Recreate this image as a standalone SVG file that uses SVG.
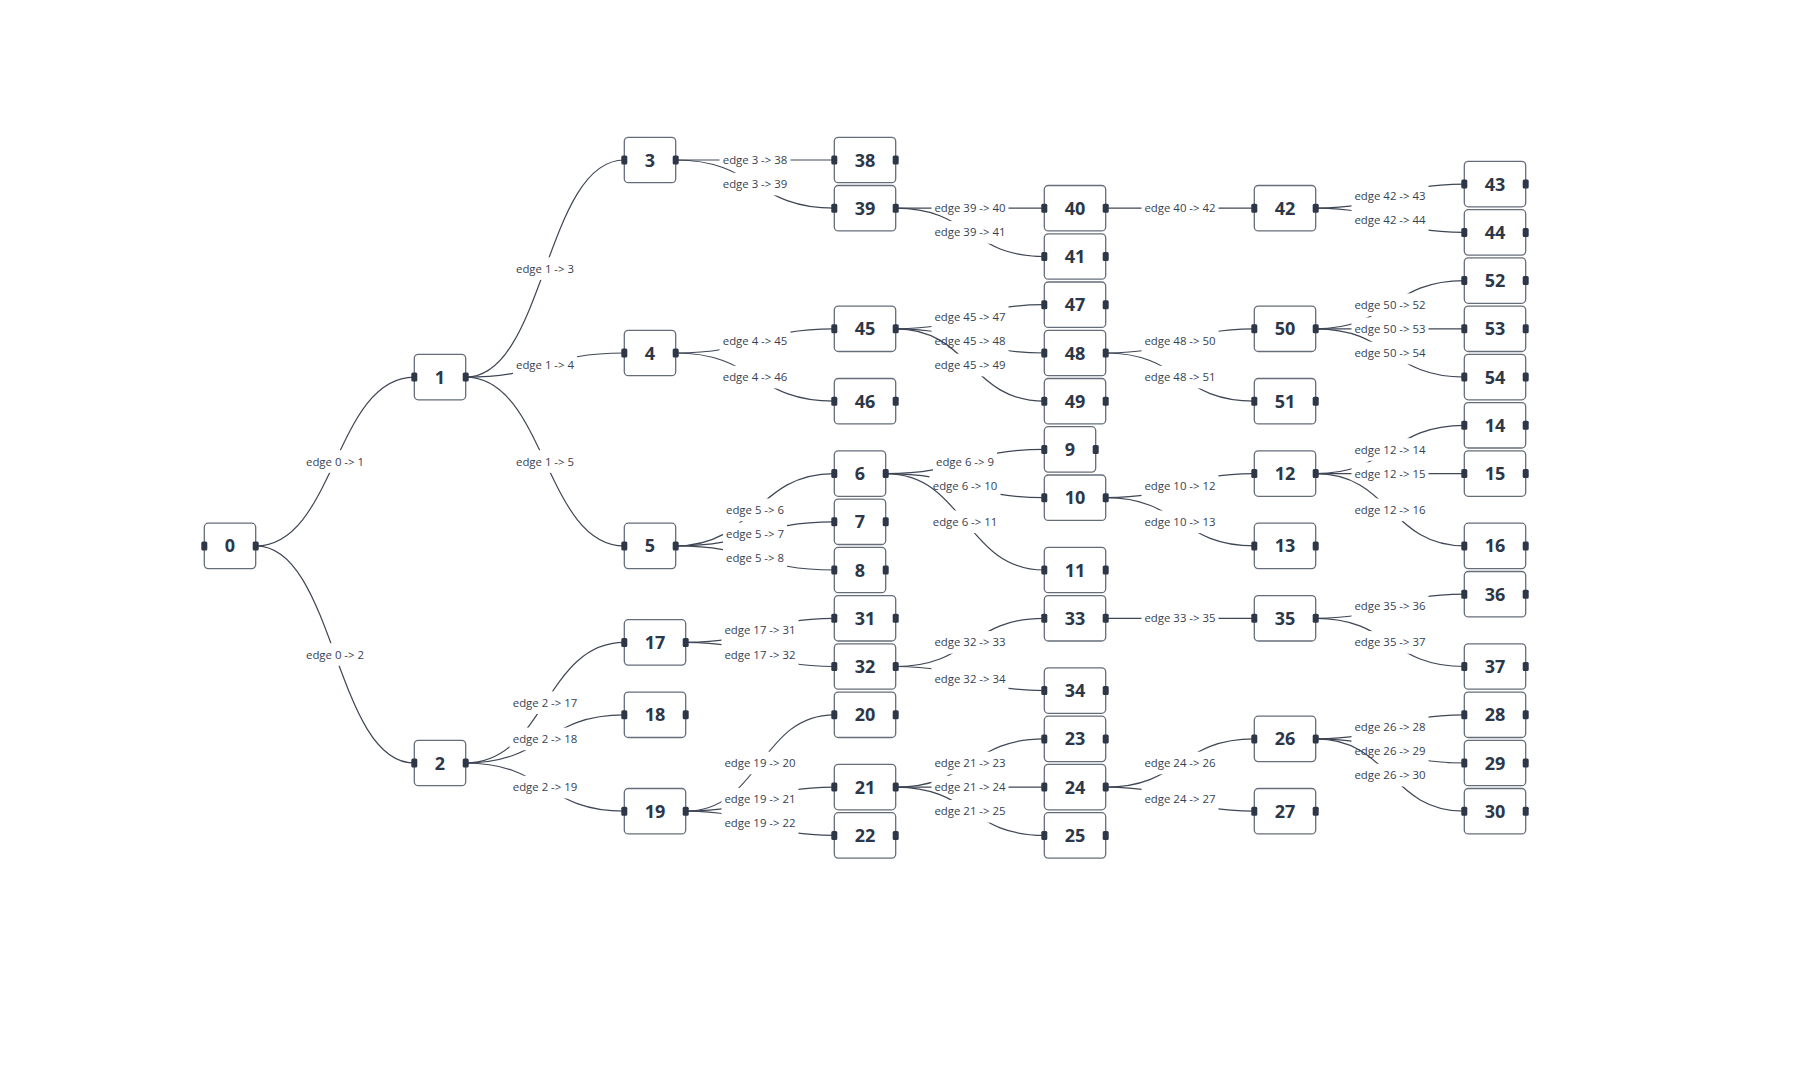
<svg xmlns="http://www.w3.org/2000/svg" xmlns:xlink="http://www.w3.org/1999/xlink" width="1807" height="1088" viewBox="0 0 1807 1088">
<style>
.box{fill:#fff;stroke:#666d7a;stroke-width:1.3}
.port{fill:#2d3748}
.node text{font-family:"Open Sans","Noto Sans","DejaVu Sans",sans-serif;font-weight:700;font-size:18px;fill:#2d3748;text-anchor:middle}
.e{fill:none;stroke:#3f4655;stroke-width:1.2}
.lb{fill:#fff}
.lbl text{font-family:"Open Sans","Noto Sans","DejaVu Sans",sans-serif;font-size:11.4px;fill:#374151;text-anchor:middle}
</style>
<defs>
<g id="n1"><rect class="box" x="0" y="-22.7" width="51.4" height="45.4" rx="4"/><rect class="port" x="-3" y="-4.5" width="6" height="9" rx="1.5"/><rect class="port" x="48.4" y="-4.5" width="6" height="9" rx="1.5"/></g>
<g id="n2"><rect class="box" x="0" y="-22.7" width="61.4" height="45.4" rx="4"/><rect class="port" x="-3" y="-4.5" width="6" height="9" rx="1.5"/><rect class="port" x="58.4" y="-4.5" width="6" height="9" rx="1.5"/></g>
<rect id="lb2" class="lb" x="-32" y="-11.3" width="64" height="22.6"/>
<rect id="lb3" class="lb" x="-35.5" y="-11.3" width="71" height="22.6"/>
<rect id="lb4" class="lb" x="-38.5" y="-11.3" width="77" height="22.6"/>
</defs>
<rect width="1807" height="1088" fill="#fff"/>
<g id="connectors">
<path class="e" d="M255.7 545.9 C335 545.9 335 377.1 414.3 377.1"/><g class="lbl" transform="translate(335,461.5)"><use href="#lb2"/><text y="4">edge 0 -&gt; 1</text></g>
<path class="e" d="M255.7 545.9 C335 545.9 335 763 414.3 763"/><g class="lbl" transform="translate(335,654.5)"><use href="#lb2"/><text y="4">edge 0 -&gt; 2</text></g>
<path class="e" d="M465.7 377.1 C545 377.1 545 160 624.3 160"/><g class="lbl" transform="translate(545,268.6)"><use href="#lb2"/><text y="4">edge 1 -&gt; 3</text></g>
<path class="e" d="M465.7 377.1 C545 377.1 545 353 624.3 353"/><g class="lbl" transform="translate(545,365.1)"><use href="#lb2"/><text y="4">edge 1 -&gt; 4</text></g>
<path class="e" d="M465.7 377.1 C545 377.1 545 545.9 624.3 545.9"/><g class="lbl" transform="translate(545,461.5)"><use href="#lb2"/><text y="4">edge 1 -&gt; 5</text></g>
<path class="e" d="M465.7 763 C545 763 545 642.4 624.3 642.4"/><g class="lbl" transform="translate(545,702.7)"><use href="#lb3"/><text y="4">edge 2 -&gt; 17</text></g>
<path class="e" d="M465.7 763 C545 763 545 714.8 624.3 714.8"/><g class="lbl" transform="translate(545,738.9)"><use href="#lb3"/><text y="4">edge 2 -&gt; 18</text></g>
<path class="e" d="M465.7 763 C545 763 545 811.2 624.3 811.2"/><g class="lbl" transform="translate(545,787.1)"><use href="#lb3"/><text y="4">edge 2 -&gt; 19</text></g>
<path class="e" d="M675.7 160 C755 160 755 160 834.3 160"/><g class="lbl" transform="translate(755,160)"><use href="#lb3"/><text y="4">edge 3 -&gt; 38</text></g>
<path class="e" d="M675.7 160 C755 160 755 208.2 834.3 208.2"/><g class="lbl" transform="translate(755,184.1)"><use href="#lb3"/><text y="4">edge 3 -&gt; 39</text></g>
<path class="e" d="M675.7 353 C755 353 755 328.8 834.3 328.8"/><g class="lbl" transform="translate(755,340.9)"><use href="#lb3"/><text y="4">edge 4 -&gt; 45</text></g>
<path class="e" d="M675.7 353 C755 353 755 401.2 834.3 401.2"/><g class="lbl" transform="translate(755,377.1)"><use href="#lb3"/><text y="4">edge 4 -&gt; 46</text></g>
<path class="e" d="M675.7 545.9 C755 545.9 755 473.6 834.3 473.6"/><g class="lbl" transform="translate(755,509.8)"><use href="#lb2"/><text y="4">edge 5 -&gt; 6</text></g>
<path class="e" d="M675.7 545.9 C755 545.9 755 521.8 834.3 521.8"/><g class="lbl" transform="translate(755,533.9)"><use href="#lb2"/><text y="4">edge 5 -&gt; 7</text></g>
<path class="e" d="M675.7 545.9 C755 545.9 755 570 834.3 570"/><g class="lbl" transform="translate(755,558)"><use href="#lb2"/><text y="4">edge 5 -&gt; 8</text></g>
<path class="e" d="M685.7 642.4 C760 642.4 760 618.3 834.3 618.3"/><g class="lbl" transform="translate(760,630.4)"><use href="#lb4"/><text y="4">edge 17 -&gt; 31</text></g>
<path class="e" d="M685.7 642.4 C760 642.4 760 666.5 834.3 666.5"/><g class="lbl" transform="translate(760,654.5)"><use href="#lb4"/><text y="4">edge 17 -&gt; 32</text></g>
<path class="e" d="M685.7 811.2 C760 811.2 760 714.8 834.3 714.8"/><g class="lbl" transform="translate(760,763)"><use href="#lb4"/><text y="4">edge 19 -&gt; 20</text></g>
<path class="e" d="M685.7 811.2 C760 811.2 760 787.1 834.3 787.1"/><g class="lbl" transform="translate(760,799.2)"><use href="#lb4"/><text y="4">edge 19 -&gt; 21</text></g>
<path class="e" d="M685.7 811.2 C760 811.2 760 835.4 834.3 835.4"/><g class="lbl" transform="translate(760,823.3)"><use href="#lb4"/><text y="4">edge 19 -&gt; 22</text></g>
<path class="e" d="M895.7 208.2 C970 208.2 970 208.2 1044.3 208.2"/><g class="lbl" transform="translate(970,208.2)"><use href="#lb4"/><text y="4">edge 39 -&gt; 40</text></g>
<path class="e" d="M895.7 208.2 C970 208.2 970 256.5 1044.3 256.5"/><g class="lbl" transform="translate(970,232.4)"><use href="#lb4"/><text y="4">edge 39 -&gt; 41</text></g>
<path class="e" d="M895.7 328.8 C970 328.8 970 304.7 1044.3 304.7"/><g class="lbl" transform="translate(970,316.8)"><use href="#lb4"/><text y="4">edge 45 -&gt; 47</text></g>
<path class="e" d="M895.7 328.8 C970 328.8 970 353 1044.3 353"/><g class="lbl" transform="translate(970,340.9)"><use href="#lb4"/><text y="4">edge 45 -&gt; 48</text></g>
<path class="e" d="M895.7 328.8 C970 328.8 970 401.2 1044.3 401.2"/><g class="lbl" transform="translate(970,365)"><use href="#lb4"/><text y="4">edge 45 -&gt; 49</text></g>
<path class="e" d="M885.7 473.6 C965 473.6 965 449.4 1044.3 449.4"/><g class="lbl" transform="translate(965,461.5)"><use href="#lb2"/><text y="4">edge 6 -&gt; 9</text></g>
<path class="e" d="M885.7 473.6 C965 473.6 965 497.7 1044.3 497.7"/><g class="lbl" transform="translate(965,485.7)"><use href="#lb3"/><text y="4">edge 6 -&gt; 10</text></g>
<path class="e" d="M885.7 473.6 C965 473.6 965 570 1044.3 570"/><g class="lbl" transform="translate(965,521.8)"><use href="#lb3"/><text y="4">edge 6 -&gt; 11</text></g>
<path class="e" d="M895.7 666.5 C970 666.5 970 618.3 1044.3 618.3"/><g class="lbl" transform="translate(970,642.4)"><use href="#lb4"/><text y="4">edge 32 -&gt; 33</text></g>
<path class="e" d="M895.7 666.5 C970 666.5 970 690.6 1044.3 690.6"/><g class="lbl" transform="translate(970,678.6)"><use href="#lb4"/><text y="4">edge 32 -&gt; 34</text></g>
<path class="e" d="M895.7 787.1 C970 787.1 970 738.9 1044.3 738.9"/><g class="lbl" transform="translate(970,763)"><use href="#lb4"/><text y="4">edge 21 -&gt; 23</text></g>
<path class="e" d="M895.7 787.1 C970 787.1 970 787.1 1044.3 787.1"/><g class="lbl" transform="translate(970,787.1)"><use href="#lb4"/><text y="4">edge 21 -&gt; 24</text></g>
<path class="e" d="M895.7 787.1 C970 787.1 970 835.4 1044.3 835.4"/><g class="lbl" transform="translate(970,811.3)"><use href="#lb4"/><text y="4">edge 21 -&gt; 25</text></g>
<path class="e" d="M1105.7 208.2 C1180 208.2 1180 208.2 1254.3 208.2"/><g class="lbl" transform="translate(1180,208.2)"><use href="#lb4"/><text y="4">edge 40 -&gt; 42</text></g>
<path class="e" d="M1105.7 353 C1180 353 1180 328.8 1254.3 328.8"/><g class="lbl" transform="translate(1180,340.9)"><use href="#lb4"/><text y="4">edge 48 -&gt; 50</text></g>
<path class="e" d="M1105.7 353 C1180 353 1180 401.2 1254.3 401.2"/><g class="lbl" transform="translate(1180,377.1)"><use href="#lb4"/><text y="4">edge 48 -&gt; 51</text></g>
<path class="e" d="M1105.7 497.7 C1180 497.7 1180 473.6 1254.3 473.6"/><g class="lbl" transform="translate(1180,485.7)"><use href="#lb4"/><text y="4">edge 10 -&gt; 12</text></g>
<path class="e" d="M1105.7 497.7 C1180 497.7 1180 545.9 1254.3 545.9"/><g class="lbl" transform="translate(1180,521.8)"><use href="#lb4"/><text y="4">edge 10 -&gt; 13</text></g>
<path class="e" d="M1105.7 618.3 C1180 618.3 1180 618.3 1254.3 618.3"/><g class="lbl" transform="translate(1180,618.3)"><use href="#lb4"/><text y="4">edge 33 -&gt; 35</text></g>
<path class="e" d="M1105.7 787.1 C1180 787.1 1180 738.9 1254.3 738.9"/><g class="lbl" transform="translate(1180,763)"><use href="#lb4"/><text y="4">edge 24 -&gt; 26</text></g>
<path class="e" d="M1105.7 787.1 C1180 787.1 1180 811.2 1254.3 811.2"/><g class="lbl" transform="translate(1180,799.2)"><use href="#lb4"/><text y="4">edge 24 -&gt; 27</text></g>
<path class="e" d="M1315.7 208.2 C1390 208.2 1390 184.1 1464.3 184.1"/><g class="lbl" transform="translate(1390,196.2)"><use href="#lb4"/><text y="4">edge 42 -&gt; 43</text></g>
<path class="e" d="M1315.7 208.2 C1390 208.2 1390 232.4 1464.3 232.4"/><g class="lbl" transform="translate(1390,220.3)"><use href="#lb4"/><text y="4">edge 42 -&gt; 44</text></g>
<path class="e" d="M1315.7 328.8 C1390 328.8 1390 280.6 1464.3 280.6"/><g class="lbl" transform="translate(1390,304.7)"><use href="#lb4"/><text y="4">edge 50 -&gt; 52</text></g>
<path class="e" d="M1315.7 328.8 C1390 328.8 1390 328.8 1464.3 328.8"/><g class="lbl" transform="translate(1390,328.8)"><use href="#lb4"/><text y="4">edge 50 -&gt; 53</text></g>
<path class="e" d="M1315.7 328.8 C1390 328.8 1390 377.1 1464.3 377.1"/><g class="lbl" transform="translate(1390,353)"><use href="#lb4"/><text y="4">edge 50 -&gt; 54</text></g>
<path class="e" d="M1315.7 473.6 C1390 473.6 1390 425.3 1464.3 425.3"/><g class="lbl" transform="translate(1390,449.5)"><use href="#lb4"/><text y="4">edge 12 -&gt; 14</text></g>
<path class="e" d="M1315.7 473.6 C1390 473.6 1390 473.6 1464.3 473.6"/><g class="lbl" transform="translate(1390,473.6)"><use href="#lb4"/><text y="4">edge 12 -&gt; 15</text></g>
<path class="e" d="M1315.7 473.6 C1390 473.6 1390 545.9 1464.3 545.9"/><g class="lbl" transform="translate(1390,509.8)"><use href="#lb4"/><text y="4">edge 12 -&gt; 16</text></g>
<path class="e" d="M1315.7 618.3 C1390 618.3 1390 594.2 1464.3 594.2"/><g class="lbl" transform="translate(1390,606.3)"><use href="#lb4"/><text y="4">edge 35 -&gt; 36</text></g>
<path class="e" d="M1315.7 618.3 C1390 618.3 1390 666.5 1464.3 666.5"/><g class="lbl" transform="translate(1390,642.4)"><use href="#lb4"/><text y="4">edge 35 -&gt; 37</text></g>
<path class="e" d="M1315.7 738.9 C1390 738.9 1390 714.8 1464.3 714.8"/><g class="lbl" transform="translate(1390,726.9)"><use href="#lb4"/><text y="4">edge 26 -&gt; 28</text></g>
<path class="e" d="M1315.7 738.9 C1390 738.9 1390 763 1464.3 763"/><g class="lbl" transform="translate(1390,751)"><use href="#lb4"/><text y="4">edge 26 -&gt; 29</text></g>
<path class="e" d="M1315.7 738.9 C1390 738.9 1390 811.2 1464.3 811.2"/><g class="lbl" transform="translate(1390,775.1)"><use href="#lb4"/><text y="4">edge 26 -&gt; 30</text></g>
</g>
<g id="nodes">
<g id="node-0" class="node" transform="translate(204.3,545.9)"><use href="#n1"/><text x="25.7" y="6.5">0</text></g>
<g id="node-1" class="node" transform="translate(414.3,377.1)"><use href="#n1"/><text x="25.7" y="6.5">1</text></g>
<g id="node-2" class="node" transform="translate(414.3,763)"><use href="#n1"/><text x="25.7" y="6.5">2</text></g>
<g id="node-3" class="node" transform="translate(624.3,160)"><use href="#n1"/><text x="25.7" y="6.5">3</text></g>
<g id="node-4" class="node" transform="translate(624.3,353)"><use href="#n1"/><text x="25.7" y="6.5">4</text></g>
<g id="node-5" class="node" transform="translate(624.3,545.9)"><use href="#n1"/><text x="25.7" y="6.5">5</text></g>
<g id="node-17" class="node" transform="translate(624.3,642.4)"><use href="#n2"/><text x="30.7" y="6.5">17</text></g>
<g id="node-18" class="node" transform="translate(624.3,714.8)"><use href="#n2"/><text x="30.7" y="6.5">18</text></g>
<g id="node-19" class="node" transform="translate(624.3,811.2)"><use href="#n2"/><text x="30.7" y="6.5">19</text></g>
<g id="node-38" class="node" transform="translate(834.3,160)"><use href="#n2"/><text x="30.7" y="6.5">38</text></g>
<g id="node-39" class="node" transform="translate(834.3,208.2)"><use href="#n2"/><text x="30.7" y="6.5">39</text></g>
<g id="node-45" class="node" transform="translate(834.3,328.8)"><use href="#n2"/><text x="30.7" y="6.5">45</text></g>
<g id="node-46" class="node" transform="translate(834.3,401.2)"><use href="#n2"/><text x="30.7" y="6.5">46</text></g>
<g id="node-6" class="node" transform="translate(834.3,473.6)"><use href="#n1"/><text x="25.7" y="6.5">6</text></g>
<g id="node-7" class="node" transform="translate(834.3,521.8)"><use href="#n1"/><text x="25.7" y="6.5">7</text></g>
<g id="node-8" class="node" transform="translate(834.3,570)"><use href="#n1"/><text x="25.7" y="6.5">8</text></g>
<g id="node-31" class="node" transform="translate(834.3,618.3)"><use href="#n2"/><text x="30.7" y="6.5">31</text></g>
<g id="node-32" class="node" transform="translate(834.3,666.5)"><use href="#n2"/><text x="30.7" y="6.5">32</text></g>
<g id="node-20" class="node" transform="translate(834.3,714.8)"><use href="#n2"/><text x="30.7" y="6.5">20</text></g>
<g id="node-21" class="node" transform="translate(834.3,787.1)"><use href="#n2"/><text x="30.7" y="6.5">21</text></g>
<g id="node-22" class="node" transform="translate(834.3,835.4)"><use href="#n2"/><text x="30.7" y="6.5">22</text></g>
<g id="node-40" class="node" transform="translate(1044.3,208.2)"><use href="#n2"/><text x="30.7" y="6.5">40</text></g>
<g id="node-41" class="node" transform="translate(1044.3,256.5)"><use href="#n2"/><text x="30.7" y="6.5">41</text></g>
<g id="node-47" class="node" transform="translate(1044.3,304.7)"><use href="#n2"/><text x="30.7" y="6.5">47</text></g>
<g id="node-48" class="node" transform="translate(1044.3,353)"><use href="#n2"/><text x="30.7" y="6.5">48</text></g>
<g id="node-49" class="node" transform="translate(1044.3,401.2)"><use href="#n2"/><text x="30.7" y="6.5">49</text></g>
<g id="node-9" class="node" transform="translate(1044.3,449.4)"><use href="#n1"/><text x="25.7" y="6.5">9</text></g>
<g id="node-10" class="node" transform="translate(1044.3,497.7)"><use href="#n2"/><text x="30.7" y="6.5">10</text></g>
<g id="node-11" class="node" transform="translate(1044.3,570)"><use href="#n2"/><text x="30.7" y="6.5">11</text></g>
<g id="node-33" class="node" transform="translate(1044.3,618.3)"><use href="#n2"/><text x="30.7" y="6.5">33</text></g>
<g id="node-34" class="node" transform="translate(1044.3,690.6)"><use href="#n2"/><text x="30.7" y="6.5">34</text></g>
<g id="node-23" class="node" transform="translate(1044.3,738.9)"><use href="#n2"/><text x="30.7" y="6.5">23</text></g>
<g id="node-24" class="node" transform="translate(1044.3,787.1)"><use href="#n2"/><text x="30.7" y="6.5">24</text></g>
<g id="node-25" class="node" transform="translate(1044.3,835.4)"><use href="#n2"/><text x="30.7" y="6.5">25</text></g>
<g id="node-42" class="node" transform="translate(1254.3,208.2)"><use href="#n2"/><text x="30.7" y="6.5">42</text></g>
<g id="node-50" class="node" transform="translate(1254.3,328.8)"><use href="#n2"/><text x="30.7" y="6.5">50</text></g>
<g id="node-51" class="node" transform="translate(1254.3,401.2)"><use href="#n2"/><text x="30.7" y="6.5">51</text></g>
<g id="node-12" class="node" transform="translate(1254.3,473.6)"><use href="#n2"/><text x="30.7" y="6.5">12</text></g>
<g id="node-13" class="node" transform="translate(1254.3,545.9)"><use href="#n2"/><text x="30.7" y="6.5">13</text></g>
<g id="node-35" class="node" transform="translate(1254.3,618.3)"><use href="#n2"/><text x="30.7" y="6.5">35</text></g>
<g id="node-26" class="node" transform="translate(1254.3,738.9)"><use href="#n2"/><text x="30.7" y="6.5">26</text></g>
<g id="node-27" class="node" transform="translate(1254.3,811.2)"><use href="#n2"/><text x="30.7" y="6.5">27</text></g>
<g id="node-43" class="node" transform="translate(1464.3,184.1)"><use href="#n2"/><text x="30.7" y="6.5">43</text></g>
<g id="node-44" class="node" transform="translate(1464.3,232.4)"><use href="#n2"/><text x="30.7" y="6.5">44</text></g>
<g id="node-52" class="node" transform="translate(1464.3,280.6)"><use href="#n2"/><text x="30.7" y="6.5">52</text></g>
<g id="node-53" class="node" transform="translate(1464.3,328.8)"><use href="#n2"/><text x="30.7" y="6.5">53</text></g>
<g id="node-54" class="node" transform="translate(1464.3,377.1)"><use href="#n2"/><text x="30.7" y="6.5">54</text></g>
<g id="node-14" class="node" transform="translate(1464.3,425.3)"><use href="#n2"/><text x="30.7" y="6.5">14</text></g>
<g id="node-15" class="node" transform="translate(1464.3,473.6)"><use href="#n2"/><text x="30.7" y="6.5">15</text></g>
<g id="node-16" class="node" transform="translate(1464.3,545.9)"><use href="#n2"/><text x="30.7" y="6.5">16</text></g>
<g id="node-36" class="node" transform="translate(1464.3,594.2)"><use href="#n2"/><text x="30.7" y="6.5">36</text></g>
<g id="node-37" class="node" transform="translate(1464.3,666.5)"><use href="#n2"/><text x="30.7" y="6.5">37</text></g>
<g id="node-28" class="node" transform="translate(1464.3,714.8)"><use href="#n2"/><text x="30.7" y="6.5">28</text></g>
<g id="node-29" class="node" transform="translate(1464.3,763)"><use href="#n2"/><text x="30.7" y="6.5">29</text></g>
<g id="node-30" class="node" transform="translate(1464.3,811.2)"><use href="#n2"/><text x="30.7" y="6.5">30</text></g>
</g>
</svg>
